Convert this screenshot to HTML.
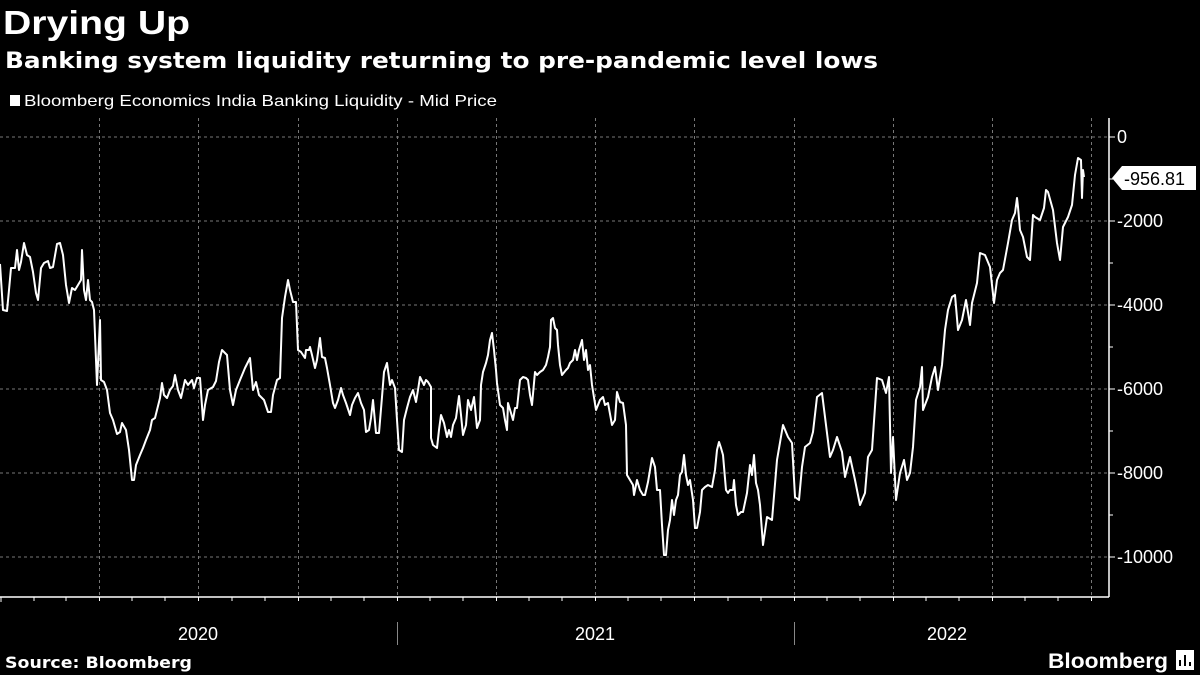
<!DOCTYPE html>
<html><head><style>body{margin:0;background:#000;}svg{display:block}</style></head><body>
<svg width="1200" height="675" viewBox="0 0 1200 675" xmlns="http://www.w3.org/2000/svg" font-family="Liberation Sans, sans-serif">
<rect width="1200" height="675" fill="#000"/>
<text x="3" y="34" fill="#fff" font-size="33" font-weight="bold" textLength="187" lengthAdjust="spacingAndGlyphs">Drying Up</text>
<text x="5" y="68" fill="#fff" font-size="22" font-weight="bold" font-family="DejaVu Sans, sans-serif" textLength="873" lengthAdjust="spacingAndGlyphs">Banking system liquidity returning to pre-pandemic level lows</text>
<rect x="10" y="95" width="10" height="11" fill="#fff"/>
<text x="24" y="106" fill="#fff" font-size="16" textLength="473" lengthAdjust="spacingAndGlyphs">Bloomberg Economics India Banking Liquidity - Mid Price</text>
<g stroke="#777" stroke-width="1" stroke-dasharray="3,3">
<line x1="0" y1="137" x2="1108" y2="137"/><line x1="0" y1="221" x2="1108" y2="221"/><line x1="0" y1="305" x2="1108" y2="305"/><line x1="0" y1="389" x2="1108" y2="389"/><line x1="0" y1="473" x2="1108" y2="473"/><line x1="0" y1="557" x2="1108" y2="557"/>
<line x1="99.5" y1="118" x2="99.5" y2="597"/><line x1="198.5" y1="118" x2="198.5" y2="597"/><line x1="298.5" y1="118" x2="298.5" y2="597"/><line x1="397.5" y1="118" x2="397.5" y2="597"/><line x1="496.5" y1="118" x2="496.5" y2="597"/><line x1="595.5" y1="118" x2="595.5" y2="597"/><line x1="694.5" y1="118" x2="694.5" y2="597"/><line x1="794.5" y1="118" x2="794.5" y2="597"/><line x1="893.5" y1="118" x2="893.5" y2="597"/><line x1="992.5" y1="118" x2="992.5" y2="597"/><line x1="1091.5" y1="118" x2="1091.5" y2="597"/>
</g>
<line x1="0" y1="597" x2="1109" y2="597" stroke="#fff" stroke-width="1.5"/>
<line x1="1109" y1="118" x2="1109" y2="597" stroke="#fff" stroke-width="1.5"/>
<g stroke="#fff" stroke-width="1">
<line x1="1" y1="597" x2="1" y2="602"/><line x1="34" y1="597" x2="34" y2="601"/><line x1="66" y1="597" x2="66" y2="601"/><line x1="99.5" y1="597" x2="99.5" y2="601"/><line x1="132" y1="597" x2="132" y2="601"/><line x1="165" y1="597" x2="165" y2="601"/><line x1="198.5" y1="597" x2="198.5" y2="601"/><line x1="232" y1="597" x2="232" y2="601"/><line x1="265" y1="597" x2="265" y2="601"/><line x1="298.5" y1="597" x2="298.5" y2="601"/><line x1="331" y1="597" x2="331" y2="601"/><line x1="364" y1="597" x2="364" y2="601"/><line x1="397.5" y1="597" x2="397.5" y2="601"/><line x1="430" y1="597" x2="430" y2="601"/><line x1="463" y1="597" x2="463" y2="601"/><line x1="496.5" y1="597" x2="496.5" y2="601"/><line x1="529" y1="597" x2="529" y2="601"/><line x1="562" y1="597" x2="562" y2="601"/><line x1="595.5" y1="597" x2="595.5" y2="601"/><line x1="628" y1="597" x2="628" y2="601"/><line x1="661" y1="597" x2="661" y2="601"/><line x1="694.5" y1="597" x2="694.5" y2="601"/><line x1="728" y1="597" x2="728" y2="601"/><line x1="761" y1="597" x2="761" y2="601"/><line x1="794.5" y1="597" x2="794.5" y2="601"/><line x1="827" y1="597" x2="827" y2="601"/><line x1="860" y1="597" x2="860" y2="601"/><line x1="893.5" y1="597" x2="893.5" y2="601"/><line x1="926" y1="597" x2="926" y2="601"/><line x1="959" y1="597" x2="959" y2="601"/><line x1="992.5" y1="597" x2="992.5" y2="601"/><line x1="1025" y1="597" x2="1025" y2="601"/><line x1="1058" y1="597" x2="1058" y2="601"/><line x1="1091.5" y1="597" x2="1091.5" y2="601"/>
<line x1="1109" y1="137" x2="1115" y2="137"/><line x1="1109" y1="179" x2="1113" y2="179"/><line x1="1109" y1="221" x2="1115" y2="221"/><line x1="1109" y1="263" x2="1113" y2="263"/><line x1="1109" y1="305" x2="1115" y2="305"/><line x1="1109" y1="347" x2="1113" y2="347"/><line x1="1109" y1="389" x2="1115" y2="389"/><line x1="1109" y1="431" x2="1113" y2="431"/><line x1="1109" y1="473" x2="1115" y2="473"/><line x1="1109" y1="515" x2="1113" y2="515"/><line x1="1109" y1="557" x2="1115" y2="557"/>
</g>
<g stroke="#888" stroke-width="1"><line x1="397.5" y1="622" x2="397.5" y2="645"/><line x1="794.5" y1="622" x2="794.5" y2="645"/></g>
<g fill="#fff" font-size="18">
<text x="1117" y="143">0</text><text x="1117" y="227">-2000</text><text x="1117" y="311">-4000</text><text x="1117" y="395">-6000</text><text x="1117" y="479">-8000</text><text x="1117" y="563">-10000</text>
</g>
<g fill="#fff" font-size="18" text-anchor="middle">
<text x="198" y="640">2020</text><text x="595" y="640">2021</text><text x="947" y="640">2022</text>
</g>
<polyline fill="none" stroke="#fff" stroke-width="2" stroke-linejoin="round" points="0,264 3,310 7,311 9,290 11,268 15,268 17,250 19,270 21,262 24,243 27,255 30,257 33,272 36,293 38,300 41,268 44,263 48,261 50,268 53,267 57,244 60,243 63,255 66,285 69,303 72,288 75,290 78,285 81,280 82,250 84,290 86,300 88,280 90,300 92,302 94,310 97,385 100,320 101,380 104,382 107,390 110,413 113,420 117,434 120,432 122,423 126,430 129,450 132,480 134,480 136,465 140,455 143,448 146,440 150,430 152,420 155,418 160,398 162,383 164,395 167,398 170,390 173,386 175,375 178,390 181,398 185,380 188,385 192,380 194,388 197,378 200,378 203,420 205,405 208,390 213,387 216,381 219,362 222,350 227,355 230,390 233,405 236,390 240,380 245,368 250,358 253,390 256,382 259,395 264,400 268,412 271,412 273,395 277,380 280,378 282,318 285,297 288,280 290,290 293,302 296,302 298,350 301,352 305,358 306,350 309,350 310,347 312,355 315,368 317,360 320,338 322,357 325,358 327,368 330,385 333,403 335,408 338,400 341,388 343,395 346,403 350,415 352,405 355,398 358,393 361,403 364,410 366,432 369,430 371,418 373,400 376,433 379,433 382,397 384,372 387,363 390,385 392,380 395,388 397,420 399,450 402,452 404,420 407,408 410,397 413,390 416,402 418,390 420,377 424,385 426,380 428,382 431,387 431,438 433,445 437,448 439,430 441,415 444,423 447,437 449,430 451,437 453,425 456,418 459,396 461,415 463,435 466,425 468,400 471,410 474,397 477,428 480,420 481,385 483,372 486,363 488,355 490,340 492,333 494,350 496,370 497,383 500,405 503,408 505,420 507,430 508,403 511,413 513,420 515,408 517,408 520,380 523,377 526,378 528,380 530,395 532,405 535,372 537,375 540,372 543,370 546,365 548,357 550,347 551,320 553,318 555,328 557,330 558,345 560,365 562,375 566,370 568,368 570,363 573,360 575,350 577,360 579,350 582,340 584,360 586,350 588,370 590,365 592,385 596,410 600,400 603,397 605,405 608,403 612,425 615,420 617,392 620,402 623,403 626,425 627,475 630,480 633,485 634,495 637,480 640,490 643,495 645,495 648,482 650,470 652,458 655,467 657,490 660,490 662,525 664,555 666,555 668,530 670,520 672,500 674,515 676,500 678,495 680,475 682,472 684,455 686,475 688,485 690,480 693,500 695,528 697,528 700,512 702,490 705,487 708,485 712,487 715,470 717,450 719,442 721,448 723,455 726,490 728,493 730,490 733,490 734,480 736,505 738,515 741,512 743,512 747,493 750,465 752,475 754,455 756,483 758,490 760,505 763,545 767,517 772,520 777,460 783,425 788,437 792,443 795,497 799,500 802,467 805,447 810,443 813,432 817,397 822,393 825,417 830,457 833,450 837,437 842,452 845,477 850,457 855,480 860,505 865,493 868,457 872,450 877,378 882,380 886,393 889,377 891,473 893,437 896,500 900,473 904,460 907,480 910,473 913,447 916,400 920,387 922,367 923,410 928,397 932,377 935,367 938,390 942,365 945,330 948,310 952,297 955,295 958,330 962,320 966,300 970,325 972,303 977,283 980,253 985,255 990,267 994,303 997,280 1000,273 1003,270 1008,243 1012,220 1015,213 1017,198 1018,207 1020,230 1023,237 1027,257 1030,260 1033,215 1035,217 1040,220 1044,208 1046,190 1048,192 1053,210 1057,243 1060,260 1063,227 1068,217 1072,205 1075,175 1078,158 1081,160 1082,198 1083,170 1084,177"/>
<path d="M1112,178 L1122,166 L1196,166 L1196,190 L1122,190 Z" fill="#fff"/>
<text x="1124" y="185" fill="#000" font-size="18">-956.81</text>
<text x="5" y="668" fill="#fff" font-size="16" font-weight="bold" font-family="DejaVu Sans, sans-serif" textLength="187" lengthAdjust="spacingAndGlyphs">Source: Bloomberg</text>
<text x="1048" y="668" fill="#fff" font-size="21" font-weight="bold" textLength="120" lengthAdjust="spacingAndGlyphs">Bloomberg</text>
<rect x="1176" y="650" width="18" height="20" fill="#fff"/>
<g stroke="#000" stroke-width="2"><line x1="1180" y1="666" x2="1180" y2="660"/><line x1="1185" y1="666" x2="1185" y2="655"/><line x1="1190" y1="666" x2="1190" y2="662"/></g>
</svg>
</body></html>
